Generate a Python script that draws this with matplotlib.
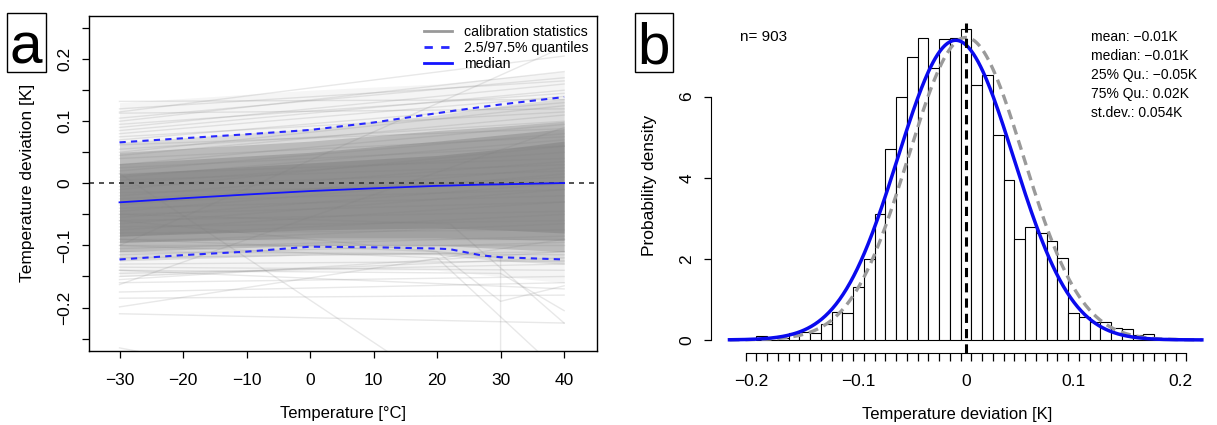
import numpy as np
import matplotlib
matplotlib.use('Agg')
import matplotlib.pyplot as plt
import matplotlib.patches as patches
from matplotlib.lines import Line2D

plt.rcParams['font.family'] = ['Liberation Sans', 'DejaVu Sans']

# ---- panel a: calibration statistics ----
temp_ticks = [-30, -20, -10, 0, 10, 20, 30, 40]
dev_ticks = [-0.25, -0.2, -0.15, -0.1, -0.05, 0, 0.05, 0.1, 0.15, 0.2, 0.25]
dev_labels = ['', '\u22120.2', '', '\u22120.1', '', '0', '', '0.1', '', '0.2', '']

quant_x = [-30, -20, -10, 0, 10, 20, 22, 27, 30, 40]
q_upper = [0.066, 0.0726, 0.079, 0.086, 0.098, 0.113, 0.116, 0.123, 0.127, 0.139]
q_lower = [-0.1226, -0.1156, -0.110, -0.102, -0.103, -0.105, -0.106, -0.116, -0.119, -0.1226]
q_median = [-0.0306, -0.024, -0.018, -0.0124, -0.008, -0.004, -0.0035, -0.002, -0.0016, 0.0005]

# density of the many overlapping calibration lines (read at band_x)
band_x = [-30, 0, 20, 30, 40]
band_lower = [[-0.15, -0.14, -0.14, -0.15, -0.16],
              [-0.125, -0.115, -0.115, -0.125, -0.13],
              [-0.11, -0.10, -0.10, -0.105, -0.11],
              [-0.095, -0.088, -0.088, -0.09, -0.092],
              [-0.085, -0.075, -0.072, -0.075, -0.08]]
band_upper = [[0.13, 0.15, 0.16, 0.17, 0.18],
              [0.066, 0.088, 0.11, 0.125, 0.137],
              [0.05, 0.068, 0.085, 0.092, 0.10],
              [0.032, 0.05, 0.068, 0.078, 0.088],
              [0.015, 0.033, 0.045, 0.055, 0.068]]
band_alpha = [0.07, 0.2, 0.3, 0.35, 0.35]

# single calibration lines: value at -30 and at 40
line_start = [0.062, 0.045, 0.04, 0.03, 0.025, 0.02, 0.015, 0.01, 0.005, 0.0,
              -0.005, -0.01, -0.015, -0.02, -0.025, -0.03, -0.035, -0.04, -0.045, -0.05,
              -0.055, -0.06, -0.065, -0.07, -0.075, -0.08, -0.085, -0.09, -0.095, -0.10,
              -0.105, -0.11, -0.115, -0.12, 0.05, 0.055, 0.07, 0.075, 0.08, -0.13, -0.135,
              0.132, 0.115, 0.113, 0.10, 0.09, 0.085, 0.095, 0.12, 0.105, -0.145,
              -0.15, -0.175, -0.21, -0.185, -0.163, -0.199, -0.10, 0.016, -0.265, -0.16,
              -0.14, -0.155]
line_end = [0.088, 0.11, 0.075, 0.095, 0.06, 0.08, 0.04, 0.07, 0.03, 0.05,
            0.02, 0.06, 0.0, 0.035, 0.01, -0.01, 0.025, -0.02, 0.015, -0.03,
            0.0, -0.045, -0.01, -0.06, -0.03, -0.075, -0.05, -0.09, -0.065, -0.10,
            -0.085, -0.115, -0.095, -0.11, 0.125, 0.10, 0.13, 0.115, 0.14, -0.125, -0.14,
            0.135, 0.205, 0.12, 0.18, 0.16, 0.15, 0.145, 0.165, 0.17, -0.13,
            -0.12, -0.16, -0.225, -0.18, 0.09, -0.09, 0.22, -0.46, -0.40, -0.15,
            -0.17, -0.11]

# calibration lines with kinks
kink_x = [[-30, 20, 30, 40], [-30, 30, 40], [-30, 20, 40], [-30, 30, 30, 40], [-30, 22, 40]]
kink_y = [[-0.09, -0.11, -0.19, -0.165], [-0.14, -0.145, -0.205], [-0.10, -0.12, -0.31],
          [-0.06, -0.12, -0.9, -0.9], [-0.05, -0.065, -0.225]]

# ---- panel b: histogram of deviations ----
bin_centers = [-0.19, -0.18, -0.17, -0.16, -0.15, -0.14, -0.13, -0.12, -0.11, -0.10,
               -0.09, -0.08, -0.07, -0.06, -0.05, -0.04, -0.03, -0.02, -0.01, 0.0,
               0.01, 0.02, 0.03, 0.04, 0.05, 0.06, 0.07, 0.08, 0.09, 0.10,
               0.11, 0.12, 0.13, 0.14, 0.15, 0.16, 0.17, 0.18, 0.19]
density = [0.10, 0.04, 0.04, 0.16, 0.20, 0.16, 0.39, 0.68, 0.66, 1.30,
           2.00, 3.11, 4.70, 5.98, 6.98, 7.44, 6.70, 7.42, 7.45, 7.66,
           6.29, 6.52, 5.05, 3.94, 2.50, 2.79, 2.63, 2.43, 2.01, 0.66,
           0.57, 0.43, 0.43, 0.30, 0.26, 0.11, 0.15, 0.02, 0.04]
fit_mean, fit_sd = -0.0095, 0.054
ref_mean, ref_sd = 0.0, 0.0535
stats_text = ['mean: \u22120.01K', 'median: \u22120.01K', '25% Qu.: \u22120.05K',
              '75% Qu.: 0.02K', 'st.dev.: 0.054K']
n_text = 'n= 903'

W, H = 1217, 425


def box(l, t, r, b):
    return [l / W, 1 - b / H, (r - l) / W, (b - t) / H]


fig = plt.figure(figsize=(W / 100, H / 100), dpi=100)
axa = fig.add_axes(box(88.7, 15.7, 596.5, 351))
axb = fig.add_axes(box(711.2, 18.3, 1204, 353.3))

# panel a
for lo, hi, a in zip(band_lower, band_upper, band_alpha):
    axa.fill_between(band_x, lo, hi, color='#737373', alpha=a, lw=0)
for s, e in zip(line_start, line_end):
    axa.plot([-30, 40], [s, e], color='#808080', alpha=0.18, lw=1.0)
for xs, ys in zip(kink_x, kink_y):
    axa.plot(xs, ys, color='#808080', alpha=0.18, lw=1.0)
axa.axhline(0, color='#333333', ls=(0, (3, 3)), lw=1.2)
axa.plot(quant_x, q_upper, color='#2828ff', ls=(0, (3, 2.5)), lw=1.5)
axa.plot(quant_x, q_lower, color='#2828ff', ls=(0, (3, 2.5)), lw=1.5)
axa.plot(quant_x, q_median, color='#1414ff', lw=1.3)

axa.set_xlim(-34.85, 45.1)
axa.set_ylim(-0.27, 0.27)
axa.set_xticks(temp_ticks, labels=[str(t).replace('-', '\u2212') for t in temp_ticks])
axa.set_yticks(dev_ticks, labels=dev_labels)
for lab in axa.get_yticklabels():
    lab.set_rotation(90)
    lab.set_va('center')
axa.tick_params(axis='both', direction='out', length=5, width=0.9, labelsize=12.5)
axa.tick_params(axis='x', pad=11)
axa.tick_params(axis='y', pad=7)
for sp in axa.spines.values():
    sp.set_linewidth(1.0)
axa.set_xlabel('Temperature [\u00b0C]', fontsize=12, labelpad=13)
axa.set_ylabel('Temperature deviation [K]', fontsize=12.5, labelpad=16)

handles = [Line2D([], [], color='#999999', lw=2),
           Line2D([], [], color='#2828ff', lw=2, ls=(0, (3, 3))),
           Line2D([], [], color='#1414ff', lw=2)]
axa.legend(handles, ['calibration statistics', '2.5/97.5% quantiles', 'median'],
           frameon=False, fontsize=10.2, loc='upper left',
           bbox_to_anchor=(424 / W, 1 - 25 / H), bbox_transform=fig.transFigure,
           borderpad=0, borderaxespad=0, handlelength=1.95, handletextpad=0.85,
           labelspacing=0.15)

# panel b
axb.bar(bin_centers, density, width=0.01, color='white', edgecolor='black', lw=0.8)
xs = np.linspace(-0.22, 0.2195, 400)
ref_pdf = np.exp(-0.5 * ((xs - ref_mean) / ref_sd) ** 2) / (ref_sd * np.sqrt(2 * np.pi))
fit_pdf = np.exp(-0.5 * ((xs - fit_mean) / fit_sd) ** 2) / (fit_sd * np.sqrt(2 * np.pi))
axb.plot(xs, ref_pdf, color='#9a9a9a', ls=(0, (3, 1.8)), lw=2.4)
axb.plot(xs, fit_pdf, color='#0a0aee', lw=2.5)
axb.axvline(0, color='black', ls=(0, (3, 2)), lw=2.2)

axb.set_xlim(-0.237, 0.2215)
axb.set_ylim(-0.33, 7.93)
for side in ['top', 'right']:
    axb.spines[side].set_visible(False)
axb.spines['left'].set_bounds(0, 6)
edges = np.round(np.arange(-0.205, 0.2051, 0.01), 3)
axb.spines['bottom'].set_bounds(edges[0], edges[-1])
axb.set_xticks(edges, labels=[''] * len(edges))
axb.set_xticks([-0.2, -0.1, 0, 0.1, 0.2],
               labels=['\u22120.2', '\u22120.1', '0', '0.1', '0.2'], minor=True)
axb.tick_params(axis='x', which='major', direction='out', length=6, width=0.9)
axb.tick_params(axis='x', which='minor', length=0, pad=15, labelsize=12.5)
axb.set_yticks([0, 2, 4, 6], labels=['0', '2', '4', '6'])
for lab in axb.get_yticklabels():
    lab.set_rotation(90)
    lab.set_va('center')
axb.tick_params(axis='y', direction='out', length=5, width=0.9, pad=7, labelsize=12.5)
axb.set_xlabel('Temperature deviation [K]', fontsize=12, labelpad=13)
axb.set_ylabel('Probability density', fontsize=12.5, labelpad=16)

fig.text(740 / W, 1 - 37 / H, n_text, fontsize=11, va='center')
for i, s in enumerate(stats_text):
    fig.text(1091 / W, 1 - (37 + 18.9 * i) / H, s, fontsize=10, va='center')

# panel letters
for l, r, letter in [(7, 45.5, 'a'), (635, 673, 'b')]:
    fig.add_artist(patches.Rectangle((l / W, 1 - 72 / H), (r - l) / W, 59 / H,
                                     transform=fig.transFigure, fill=False, lw=1.0, ec='black'))
    fig.text((l + r) / 2 / W, 1 - 64 / H, letter, fontsize=42, ha='center', va='baseline')

fig.savefig('out.png', dpi=100)
